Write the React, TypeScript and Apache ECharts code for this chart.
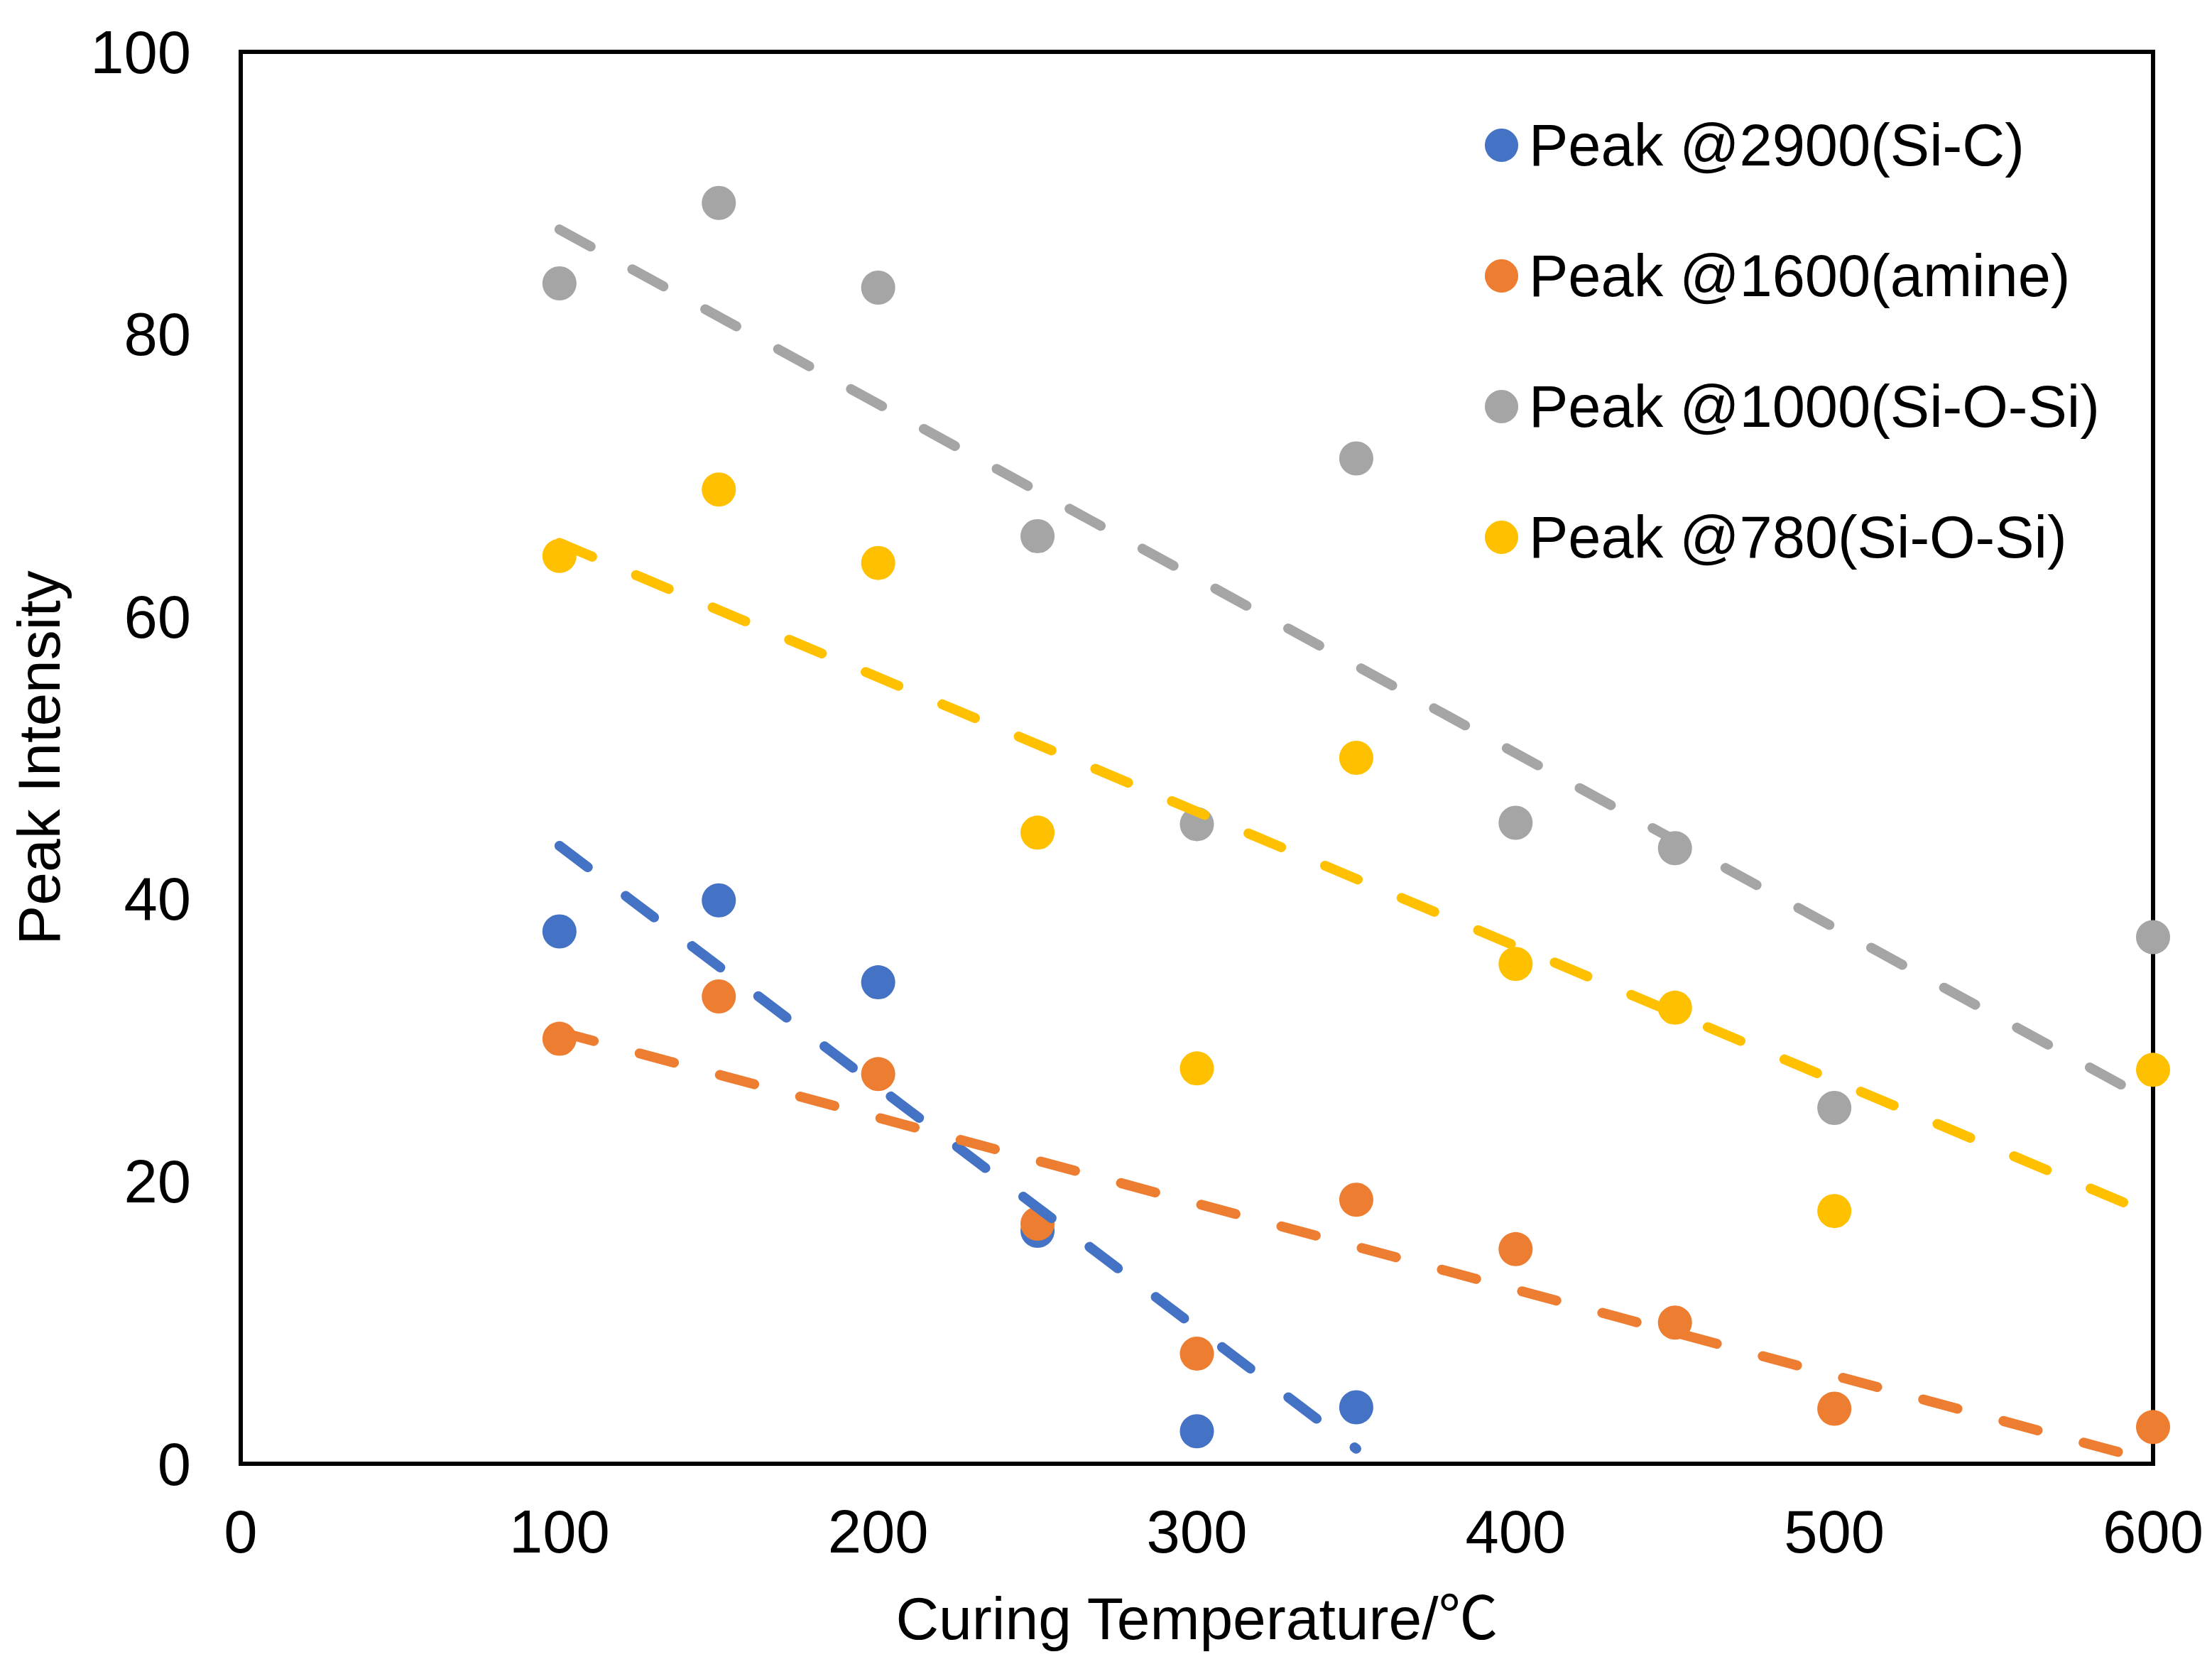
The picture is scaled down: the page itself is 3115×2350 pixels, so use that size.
import * as echarts from 'echarts';
import React, { useEffect, useRef } from 'react';

// curing temperatures (°C)
const temps = [100, 150, 200, 250, 300, 350, 400, 450, 500, 600];

// peak intensities
const siC2900 = [37.7, 39.9, 34.1, 16.5, 2.3, 4.0];
const amine1600 = [30.1, 33.1, 27.6, 17.0, 7.8, 18.7, 15.2, 10.0, 3.9, 2.6];
const siOSi1000 = [83.6, 89.3, 83.3, 65.7, 45.3, 71.2, 45.4, 43.6, 25.2, 37.3];
const siOSi780 = [64.3, 69.0, 63.8, 44.7, 28.0, 50.0, 35.4, 32.3, 17.9, 27.9];

const seriesNames = [
  'Peak @2900(Si-C)',
  'Peak @1600(amine)',
  'Peak @1000(Si-O-Si)',
  'Peak @780(Si-O-Si)',
];
const seriesColors = ['#4472C4', '#ED7D31', '#A5A5A5', '#FFC000'];
const seriesValues = [siC2900, amine1600, siOSi1000, siOSi780];

const xTicks = [0, 100, 200, 300, 400, 500, 600];
const yTicks = [0, 20, 40, 60, 80, 100];

const FONT = '"Liberation Sans", Arial, "Noto Sans CJK SC", sans-serif';

// least-squares linear trend line over the range of the points (like Excel)
const trendLine = (xs: number[], ys: number[]) => {
  const n = ys.length;
  const x = xs.slice(0, n);
  const mx = x.reduce((a, b) => a + b, 0) / n;
  const my = ys.reduce((a, b) => a + b, 0) / n;
  let sxy = 0;
  let sxx = 0;
  for (let i = 0; i < n; i++) {
    sxy += (x[i] - mx) * (ys[i] - my);
    sxx += (x[i] - mx) * (x[i] - mx);
  }
  const k = sxy / sxx;
  const b = my - k * mx;
  return [
    [x[0], k * x[0] + b],
    [x[n - 1], k * x[n - 1] + b],
  ];
};

const App: React.FC = () => {
  const chartRef = useRef<HTMLDivElement>(null);

  useEffect(() => {
    document.body.style.margin = '0';
    if (!chartRef.current) return;

    const chart = echarts.init(chartRef.current, undefined, { renderer: 'svg' });

    const scatterSeries = seriesNames.map((name, i) => ({
      name,
      type: 'scatter' as const,
      data: seriesValues[i].map((v, j) => [temps[j], v]),
      symbol: 'circle',
      symbolSize: 48,
      itemStyle: { color: seriesColors[i], opacity: 1 },
      z: 2,
    }));

    const trendSeries = seriesNames.map((name, i) => ({
      name: name + ' trend',
      type: 'line' as const,
      data: trendLine(temps, seriesValues[i]),
      showSymbol: false,
      symbol: 'none',
      silent: true,
      lineStyle: {
        color: seriesColors[i],
        width: 14,
        type: [50, 67],
        cap: 'round',
      },
      z: 3,
    }));

    const option: echarts.EChartsOption = {
      animation: false,
      backgroundColor: '#fff',
      grid: {
        left: 339,
        right: 83,
        top: 73,
        bottom: 289,
        show: true,
        borderColor: '#000',
        borderWidth: 6,
      },
      legend: {
        data: seriesNames,
        orient: 'vertical',
        left: 2091,
        top: 163,
        padding: 0,
        itemWidth: 47,
        itemHeight: 47,
        itemGap: 101,
        icon: 'circle',
        selectedMode: false,
        itemStyle: { opacity: 1 },
        textStyle: {
          color: '#000',
          fontSize: 83,
          fontFamily: FONT,
          lineHeight: 83,
          padding: [0, 0, 0, 10],
        },
      },
      xAxis: {
        type: 'value',
        min: xTicks[0],
        max: xTicks[xTicks.length - 1],
        interval: 100,
        name: 'Curing Temperature/℃',
        nameLocation: 'middle',
        nameGap: 176,
        nameTextStyle: { color: '#000', fontSize: 84, fontFamily: FONT },
        axisLine: { show: true, lineStyle: { color: '#000', width: 6 } },
        axisTick: { show: false },
        splitLine: { show: false },
        axisLabel: { color: '#000', fontSize: 85, fontFamily: FONT, margin: 53 },
      },
      yAxis: {
        type: 'value',
        min: yTicks[0],
        max: yTicks[yTicks.length - 1],
        interval: 20,
        name: 'Peak Intensity',
        nameLocation: 'middle',
        nameGap: 242,
        nameTextStyle: { color: '#000', fontSize: 84, fontFamily: FONT },
        axisLine: { show: true, lineStyle: { color: '#000', width: 6 } },
        axisTick: { show: false },
        splitLine: { show: false },
        axisLabel: { color: '#000', fontSize: 85, fontFamily: FONT, margin: 70 },
      },
      series: [...scatterSeries, ...trendSeries] as any,
    };

    chart.setOption(option);

    const handleResize = () => chart.resize();
    window.addEventListener('resize', handleResize);

    return () => {
      window.removeEventListener('resize', handleResize);
      chart.dispose();
    };
  }, []);

  return <div ref={chartRef} style={{ width: '3115px', height: '2350px' }} />;
};

export default App;
